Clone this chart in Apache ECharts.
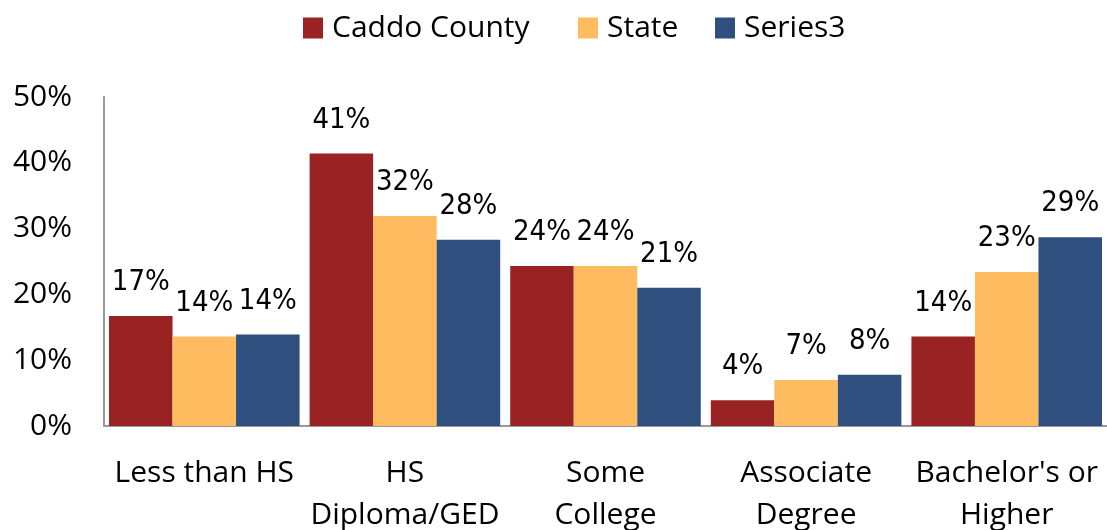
<!DOCTYPE html>
<html>
<head>
<meta charset="utf-8">
<script src="https://cdn.jsdelivr.net/npm/echarts@6/dist/echarts.min.js"></script>
<style>html,body{margin:0;padding:0;background:#fff}#c{width:1107px;height:530px}</style>
</head>
<body>
<div id="c"></div>
<script>
const categories = ['Less than HS', 'HS\nDiploma/GED', 'Some\nCollege', 'Associate\nDegree', "Bachelor's or\nHigher"];
const seriesNames = ['Caddo County', 'State', 'Series3'];
const caddo = [0.167, 0.414, 0.243, 0.039, 0.136];
const state = [0.136, 0.319, 0.243, 0.070, 0.234];
const series3 = [0.139, 0.283, 0.210, 0.078, 0.287];
const yTicks = [0, 0.1, 0.2, 0.3, 0.4, 0.5];
const colors = ['#982322', '#FEBB5F', '#2F4F7E'];

const labelFont = "'Liberation Sans Narrow', 'DejaVu Sans Condensed', 'Liberation Sans', sans-serif";
const mainFont = "'Open Sans', 'Noto Sans', sans-serif";
const legendLefts = [298, 573, 710];

function mk(name, data, i) {
  return {
    name: name, type: 'bar', data: data,
    barGap: '0%', barCategoryGap: '5%',
    itemStyle: { color: colors[i] },
    label: {
      show: true, position: 'top', distance: 19,
      fontFamily: labelFont, fontSize: 29, color: '#000',
      formatter: p => Math.round(p.value * 100) + '%'
    }
  };
}

const legends = seriesNames.map((n, i) => ({
  top: 8, left: legendLefts[i], icon: 'rect', itemWidth: 20, itemHeight: 21,
  textStyle: { fontFamily: mainFont, fontSize: 30, color: '#000', padding: [0, 0, 0, 4] },
  data: [n]
}));

const chart = echarts.init(document.getElementById('c'));
chart.setOption({
  animation: false,
  legend: legends,
  grid: { left: 104, right: 0, top: 97, bottom: 104, containLabel: false, outerBoundsMode: 'none' },
  xAxis: {
    type: 'category', data: categories,
    axisLine: { lineStyle: { color: '#999', width: 2 } },
    axisTick: { show: false },
    axisLabel: { fontFamily: mainFont, fontSize: 30, color: '#000', lineHeight: 42, margin: 26, interval: 0 }
  },
  yAxis: {
    type: 'value', min: 0, max: 0.5, interval: 0.1,
    axisLine: { show: true, lineStyle: { color: '#999', width: 2 } },
    axisTick: { show: false },
    splitLine: { show: false },
    axisLabel: {
      fontFamily: mainFont, fontSize: 30, color: '#000', margin: 32,
      formatter: v => {
        const t = yTicks.find(x => Math.abs(x - v) < 1e-9);
        return Math.round((t === undefined ? v : t) * 100) + '%';
      }
    }
  },
  series: [mk(seriesNames[0], caddo, 0), mk(seriesNames[1], state, 1), mk(seriesNames[2], series3, 2)]
});
</script>
</body>
</html>
